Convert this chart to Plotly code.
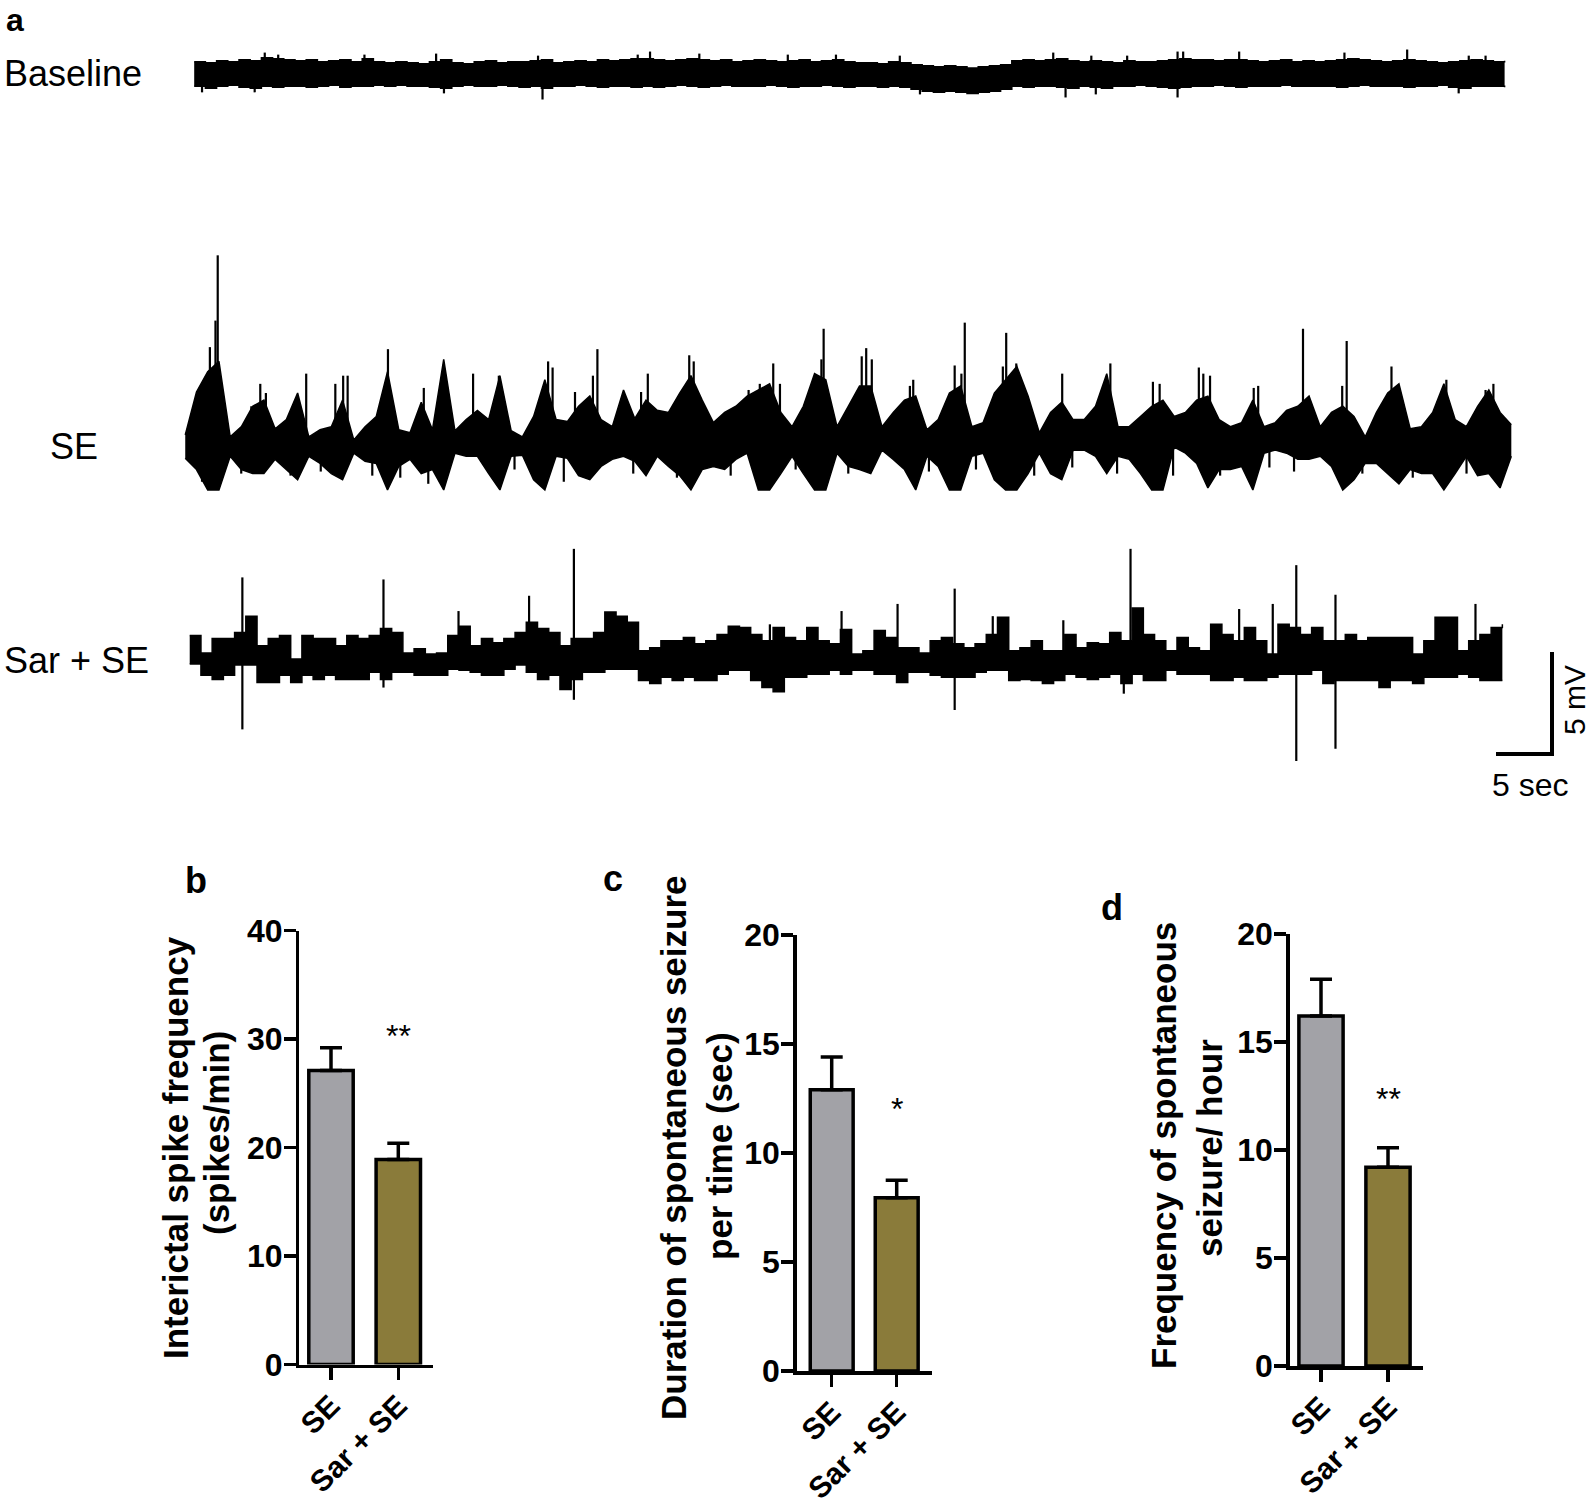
import numpy as np
import plotly.graph_objects as go

W, H = 1593, 1506

# ---------------- EEG traces: 1-s samples, mV relative to each trace's mid-line ----------------
baseline_hi = [0.6,0.55,0.65,0.6,0.7,0.65,0.8,0.75,0.7,0.65,
               0.7,0.6,0.65,0.7,0.6,0.75,0.6,0.55,0.6,0.55,
               0.5,0.6,0.7,0.55,0.5,0.6,0.65,0.55,0.6,0.6,
               0.65,0.7,0.55,0.6,0.65,0.6,0.7,0.65,0.7,0.75,
               0.75,0.7,0.65,0.7,0.75,0.7,0.65,0.7,0.6,0.65,
               0.7,0.65,0.6,0.65,0.7,0.6,0.65,0.7,0.6,0.55,
               0.55,0.5,0.6,0.55,0.45,0.4,0.35,0.4,0.35,0.3,
               0.35,0.4,0.45,0.65,0.7,0.65,0.7,0.75,0.65,0.6,
               0.65,0.6,0.55,0.65,0.6,0.6,0.65,0.7,0.75,0.7,
               0.7,0.65,0.7,0.7,0.65,0.6,0.65,0.7,0.6,0.65,
               0.6,0.65,0.7,0.75,0.7,0.65,0.6,0.65,0.7,0.65,
               0.6,0.55,0.6,0.65,0.7,0.65,0.6,0.65]
baseline_lo = [-0.6,-0.7,-0.6,-0.55,-0.65,-0.7,-0.6,-0.65,-0.6,-0.6,
               -0.65,-0.6,-0.55,-0.65,-0.6,-0.6,-0.55,-0.6,-0.55,-0.6,
               -0.6,-0.65,-0.7,-0.6,-0.55,-0.6,-0.6,-0.55,-0.6,-0.65,
               -0.6,-0.7,-0.6,-0.6,-0.55,-0.6,-0.65,-0.6,-0.6,-0.65,
               -0.6,-0.65,-0.6,-0.55,-0.6,-0.65,-0.6,-0.55,-0.6,-0.6,
               -0.6,-0.55,-0.6,-0.65,-0.6,-0.6,-0.55,-0.6,-0.65,-0.6,
               -0.6,-0.65,-0.6,-0.65,-0.75,-0.85,-0.9,-0.85,-0.9,-0.95,
               -0.9,-0.85,-0.75,-0.6,-0.65,-0.6,-0.6,-0.65,-0.7,-0.6,
               -0.65,-0.7,-0.6,-0.6,-0.55,-0.6,-0.65,-0.7,-0.65,-0.6,
               -0.6,-0.55,-0.6,-0.65,-0.6,-0.6,-0.6,-0.55,-0.6,-0.6,
               -0.6,-0.6,-0.65,-0.6,-0.55,-0.6,-0.6,-0.6,-0.65,-0.6,
               -0.6,-0.55,-0.65,-0.7,-0.6,-0.6,-0.6,-0.65]
baseline_spk_t = [7.3,8.5,16.2,22.6,31.7,40.6,41.7,46.1,54.0,58.3,64.0,77.7,81.1,84.3,88.8,89.3,94.3,103.7,109.3,114.8,116.3,
                  1.7,6.4,23.3,32.1,65.8,78.8,81.5,88.8,113.9]
baseline_spk_v = [1.05,0.95,0.95,1.0,0.9,0.95,1.1,1.0,0.95,0.95,0.9,1.05,0.9,0.9,1.1,1.1,1.1,1.05,1.2,0.9,0.9,
                  -0.9,-0.9,-0.95,-1.25,-1.0,-1.15,-1.0,-1.15,-0.95]

se_hi = [0.4,2.5,3.5,4.0,0.3,0.8,1.8,2.1,0.7,1.15,
         2.45,0.3,0.65,0.8,2.1,0.15,0.8,1.3,3.5,0.65,
         0.5,2.0,0.65,4.1,0.6,1.15,1.6,1.15,3.3,0.6,
         0.3,1.3,3.1,1.15,1.05,1.8,2.3,1.15,0.8,2.6,
         1.2,2.1,1.6,1.5,2.45,3.3,2.1,1.0,1.5,1.8,
         2.3,2.6,2.9,1.5,0.8,1.8,3.4,3.1,0.8,1.8,
         2.8,2.8,0.8,1.5,2.1,2.3,0.65,1.15,2.45,2.8,
         0.8,1.0,2.45,3.1,3.75,2.3,0.5,1.5,2.0,1.15,
         1.15,1.8,3.4,0.8,0.8,1.3,1.8,2.1,1.3,1.5,
         2.1,2.3,1.15,0.8,1.0,2.1,0.8,1.0,1.6,1.8,
         2.3,0.8,1.5,1.8,1.3,0.3,1.5,2.45,2.9,0.7,
         0.8,1.5,2.9,1.15,0.8,1.8,2.6,1.5,0.9]
se_lo = [-0.75,-1.3,-2.3,-2.3,-0.65,-1.3,-1.5,-1.5,-0.8,-1.3,
         -1.8,-0.65,-1.0,-1.5,-1.8,-0.5,-0.9,-1.0,-2.3,-1.15,
         -0.8,-1.5,-1.3,-2.3,-0.5,-0.65,-0.65,-1.5,-2.3,-0.65,
         -0.6,-1.8,-2.3,-0.65,-0.75,-1.6,-1.8,-1.15,-0.8,-0.65,
         -0.9,-1.6,-0.65,-1.15,-1.6,-2.3,-1.3,-1.15,-1.3,-0.8,
         -0.5,-2.3,-2.3,-1.5,-0.65,-1.5,-2.3,-2.3,-0.5,-1.15,
         -1.3,-1.5,-0.35,-0.8,-1.3,-2.3,-0.65,-1.15,-2.3,-2.3,
         -0.65,-0.5,-1.8,-2.3,-2.3,-1.5,-0.5,-1.5,-1.8,-0.35,
         -0.35,-0.65,-1.5,-0.65,-0.8,-1.5,-2.3,-2.3,-0.2,-0.5,
         -1.0,-2.2,-1.3,-1.3,-1.15,-2.3,-0.5,-0.35,-0.5,-0.8,
         -0.8,-0.65,-1.15,-2.3,-1.8,-1.0,-1.0,-1.5,-2.0,-1.3,
         -1.5,-1.5,-2.3,-1.5,-0.65,-1.6,-1.5,-2.2,-0.65]
se_spk_t = [2.4,2.9,3.1,6.1,6.9,7.4,11.0,13.6,14.3,14.7,18.3,21.5,25.9,28.2,32.6,33.0,35.0,36.6,37.0,
            40.9,41.5,45.2,45.6,50.5,51.5,52.7,53.3,57.0,57.2,60.6,61.0,61.5,64.9,65.2,68.9,69.5,69.8,73.2,73.5,74.4,78.5,
            82.8,86.6,87.2,90.7,91.1,91.7,95.6,96.0,100.0,103.5,103.9,107.9,112.8,116.3,117.0,
            1.7,5.2,9.6,12.3,16.9,19.4,21.9,29.6,34.0,40.2,44.1,48.9,54.7,59.4,66.6,70.8,76.0,79.4,83.4,88.4,
            92.6,97.0,99.2,105.3,109.8,114.6]
se_spk_v = [4.7,6.0,9.2,1.8,2.9,2.45,3.4,2.9,3.3,3.3,4.6,2.7,3.4,3.3,4.0,3.7,2.5,3.3,4.6,
            2.5,3.4,4.3,4.0,2.6,2.9,3.9,2.9,4.1,5.6,4.25,4.65,4.1,2.8,3.1,3.8,3.4,5.9,3.75,5.4,3.9,3.4,
            3.9,3.0,2.9,3.7,3.4,3.3,2.7,2.8,5.6,2.8,5.0,3.75,3.1,2.6,2.9,
            -1.9,-1.5,-1.6,-1.4,-1.6,-1.7,-2.0,-1.3,-1.9,-1.5,-1.7,-1.6,-1.3,-1.5,-1.4,-1.3,-1.6,-1.2,-1.5,-1.6,
            -1.6,-1.2,-1.4,-1.5,-1.7,-1.5]

sar_hi = [1.15,0.3,1.0,1.0,1.3,2.1,0.65,1.0,1.15,0.0,
          1.15,1.0,1.0,0.65,1.15,1.0,1.15,1.5,1.3,0.3,
          0.5,0.25,0.3,1.15,1.6,0.65,1.0,0.8,1.0,1.3,
          1.8,1.5,1.3,0.65,1.0,1.0,1.3,2.3,2.1,1.8,
          0.4,0.55,0.9,0.9,1.05,0.75,0.9,1.2,1.6,1.55,
          1.2,0.9,1.55,1.05,0.9,1.55,0.9,0.75,1.45,0.25,
          0.4,1.4,1.05,0.55,0.55,0.3,0.9,1.05,0.75,0.55,
          0.75,1.2,2.05,0.4,0.55,0.9,0.4,0.4,1.2,0.55,
          0.8,0.75,1.3,0.9,2.5,1.2,0.9,0.4,1.05,0.55,
          0.4,1.7,1.2,0.9,1.55,0.9,0.25,1.7,1.55,1.2,
          1.55,0.9,0.9,1.2,0.9,1.05,1.05,1.05,1.05,0.25,
          0.9,2.05,2.05,0.4,0.9,1.2,1.55,1.7]
sar_lo = [-0.25,-0.8,-1.0,-0.8,-0.3,-0.3,-1.15,-1.15,-0.8,-1.15,
          -0.8,-1.0,-0.8,-1.0,-1.0,-1.0,-0.65,-1.0,-0.65,-0.65,
          -0.8,-0.8,-0.8,-0.5,-0.55,-0.65,-0.8,-0.8,-0.5,-0.3,
          -0.65,-1.0,-0.8,-1.5,-1.0,-0.65,-0.65,-0.5,-0.5,-0.5,
          -1.05,-1.2,-0.9,-1.05,-0.9,-1.05,-1.05,-0.75,-0.55,-0.55,
          -1.05,-1.4,-1.6,-0.9,-0.9,-0.75,-0.75,-0.55,-0.75,-0.55,
          -0.55,-0.75,-0.75,-1.15,-0.65,-0.65,-0.8,-0.9,-0.9,-0.9,
          -0.65,-0.55,-0.55,-1.05,-1.0,-1.05,-1.2,-1.05,-0.75,-0.9,
          -1.0,-0.9,-0.75,-1.2,-0.75,-1.05,-1.05,-0.55,-0.75,-0.75,
          -0.75,-1.05,-1.05,-0.9,-1.05,-1.05,-0.9,-0.75,-0.75,-0.75,
          -0.55,-1.2,-1.05,-1.05,-1.05,-1.05,-1.4,-1.05,-1.05,-1.2,
          -0.9,-0.9,-0.9,-0.75,-0.9,-1.05,-1.05,-1.05]
sar_spk_t = [5.3,5.3,17.9,17.9,24.6,30.9,34.9,34.9,52.4,58.8,63.8,68.9,68.9,72.3,78.6,
             84.0,84.6,94.3,97.3,99.4,99.4,102.9,102.9,115.4]
sar_spk_v = [4.0,-3.45,3.9,-1.4,2.35,3.1,5.4,-2.0,1.7,2.35,2.7,3.45,-2.5,2.1,1.9,
             -1.7,5.4,2.45,2.7,4.6,-5.0,3.15,-4.4,2.7]

# ---------------- Bar-chart data (mean, SEM) ----------------
groups = ["SE", "Sar + SE"]
spike_freq_mean = [27.1, 18.9]
spike_freq_sem = [2.1, 1.5]
duration_mean = [12.9, 7.95]
duration_sem = [1.5, 0.8]
seizure_freq_mean = [16.2, 9.2]
seizure_freq_sem = [1.7, 0.9]

bar_colors = ["#a2a2a7", "#8a7b3a"]
FONT = "Liberation Sans"

# ---------------- geometry helpers ----------------
PX_PER_S = 11.2
PX_PER_MV = 20.4
T0_PX = 183.0

def py_to_mv(py):
    return (H - py) / PX_PER_MV

fig = go.Figure()

traces_def = [
    (baseline_hi, baseline_lo, baseline_spk_t, baseline_spk_v, 1.0, 118.0, 74.0, "hv"),
    (se_hi, se_lo, se_spk_t, se_spk_v, 0.2, 118.6, 443.0, "linear"),
    (sar_hi, sar_lo, sar_spk_t, sar_spk_v, 0.6, 117.8, 659.0, "hv"),
]
for hi, lo, st, sv, t0, t1, cy, shp in traces_def:
    off = py_to_mv(cy)
    t = np.linspace(t0, t1, len(hi))
    fig.add_trace(go.Scatter(x=t, y=np.array(lo) + off, mode="lines",
                             line=dict(color="black", width=1.5, shape=shp), hoverinfo="skip",
                             xaxis="x", yaxis="y"))
    fig.add_trace(go.Scatter(x=t, y=np.array(hi) + off, mode="lines", fill="tonexty",
                             fillcolor="black", line=dict(color="black", width=1.5, shape=shp),
                             hoverinfo="skip", xaxis="x", yaxis="y"))
    nx, ny = [], []
    for ti, vi in zip(st, sv):
        nx += [ti, ti, None]
        ny += [off, off + vi, None]
    fig.add_trace(go.Scatter(x=nx, y=ny, mode="lines", line=dict(color="black", width=2.2),
                             hoverinfo="skip", xaxis="x", yaxis="y"))

# scale bar: 5 s x 5 mV
sb_x0 = (1496 - T0_PX) / PX_PER_S
sb_y0 = py_to_mv(754)
fig.add_trace(go.Scatter(x=[sb_x0, sb_x0 + 5, sb_x0 + 5], y=[sb_y0, sb_y0, sb_y0 + 5],
                         mode="lines", line=dict(color="black", width=4), hoverinfo="skip",
                         xaxis="x", yaxis="y"))

layout = dict(
    width=W, height=H, margin=dict(l=0, r=0, t=0, b=0, pad=0, autoexpand=False),
    paper_bgcolor="white", plot_bgcolor="rgba(0,0,0,0)", showlegend=False,
    xaxis=dict(domain=[0, 1], range=[-T0_PX / PX_PER_S, (W - T0_PX) / PX_PER_S], visible=False,
               automargin=False),
    yaxis=dict(domain=[0, 1], range=[0, H / PX_PER_MV], visible=False, automargin=False),
)

def px2paper_x(px):
    return px / W

def py2paper_y(py):
    return 1 - py / H

LW = 3.5
panels = [
    # (axis id, means, sems, ymax, dtick, y-axis line px, x-axis end px, centre0 px, centre1 px, y top px, y zero px)
    ("2", spike_freq_mean, spike_freq_sem, 40, 10, 297.7, 433.0, 331.0, 398.3, 930.6, 1364.5),
    ("3", duration_mean, duration_sem, 20, 5, 795.0, 931.7, 831.7, 896.7, 935.0, 1371.0),
    ("4", seizure_freq_mean, seizure_freq_sem, 20, 5, 1288.0, 1423.0, 1321.0, 1388.0, 934.0, 1366.0),
]
ytickfont = dict(family=FONT, size=32, color="black", weight="bold")
xtickfont = dict(family=FONT, size=30, color="black", weight="bold")
for aid, means, sems, ymax, dt, xline, xa1, c0, c1, ytop, yzero in panels:
    unit = c1 - c0
    xa0 = xline + LW / 2
    xr = [(xa0 - c0) / unit, (xa1 - c0) / unit]
    layout["xaxis" + aid] = dict(
        domain=[px2paper_x(xa0), px2paper_x(xa1)], range=xr, anchor="y" + aid,
        showline=True, linecolor="black", linewidth=LW, ticks="outside", ticklen=12,
        tickwidth=LW, tickcolor="black", tickmode="array", tickvals=[0, 1], ticktext=groups,
        tickangle=-45, tickfont=xtickfont, ticklabelstandoff=-4,
        showgrid=False, zeroline=False, automargin=False)
    layout["yaxis" + aid] = dict(
        domain=[py2paper_y(yzero), py2paper_y(ytop)], range=[0, ymax], anchor="x" + aid,
        showline=True, linecolor="black", linewidth=LW, ticks="outside", ticklen=12,
        tickwidth=LW, tickcolor="black", dtick=dt, tick0=0, tickfont=ytickfont,
        ticklabelstandoff=-5, showgrid=False, zeroline=False, automargin=False)
    fig.add_trace(go.Bar(x=[0, 1], y=means, width=0.66,
                         marker=dict(color=bar_colors, line=dict(color="black", width=LW)),
                         error_y=dict(type="data", symmetric=False, array=sems, arrayminus=[0, 0],
                                      color="black", thickness=LW, width=11),
                         xaxis="x" + aid, yaxis="y" + aid, hoverinfo="skip"))

ann = []
def text(px, py, s, size, bold=False, angle=0, xanchor="center", yanchor="middle"):
    ann.append(dict(x=px2paper_x(px), y=py2paper_y(py), xref="paper", yref="paper",
                    text=("<b>%s</b>" % s) if bold else s, showarrow=False, textangle=angle,
                    xanchor=xanchor, yanchor=yanchor,
                    font=dict(family=FONT, size=size, color="black")))

text(4, 0, "a", 32, bold=True, xanchor="left", yanchor="top")
text(2, 74, "Baseline", 36, xanchor="left")
text(74, 447, "SE", 36)
text(2, 660, "Sar + SE", 36, xanchor="left")
text(1530, 785, "5 sec", 32)
text(1574, 700, "5 mV", 30, angle=-90)
text(196, 880, "b", 36, bold=True)
text(613, 878, "c", 36, bold=True)
text(1112, 907, "d", 36, bold=True)
text(175, 1148, "Interictal spike frequency", 35, bold=True, angle=-90)
text(216, 1133, "(spikes/min)", 35, bold=True, angle=-90)
text(673, 1148, "Duration of spontaneous seizure", 35, bold=True, angle=-90)
text(719, 1146, "per time (sec)", 35, bold=True, angle=-90)
text(1163, 1146, "Frequency of spontaneous", 35, bold=True, angle=-90)
text(1209, 1148, "seizure/ hour", 35, bold=True, angle=-90)

# significance marks (data coords)
sig = [("2", 30.3, "**"), ("3", 12.0, "*"), ("4", 12.35, "**")]
for aid, yv, s in sig:
    ann.append(dict(x=1, y=yv, xref="x" + aid, yref="y" + aid, text=s, showarrow=False,
                    font=dict(family=FONT, size=32, color="black"), yanchor="middle"))

layout["annotations"] = ann
fig.update_layout(**layout)
fig.write_html("out.html", config={"displayModeBar": False, "staticPlot": True},
               post_script="document.body.style.margin='0px';document.body.style.overflow='hidden';")
